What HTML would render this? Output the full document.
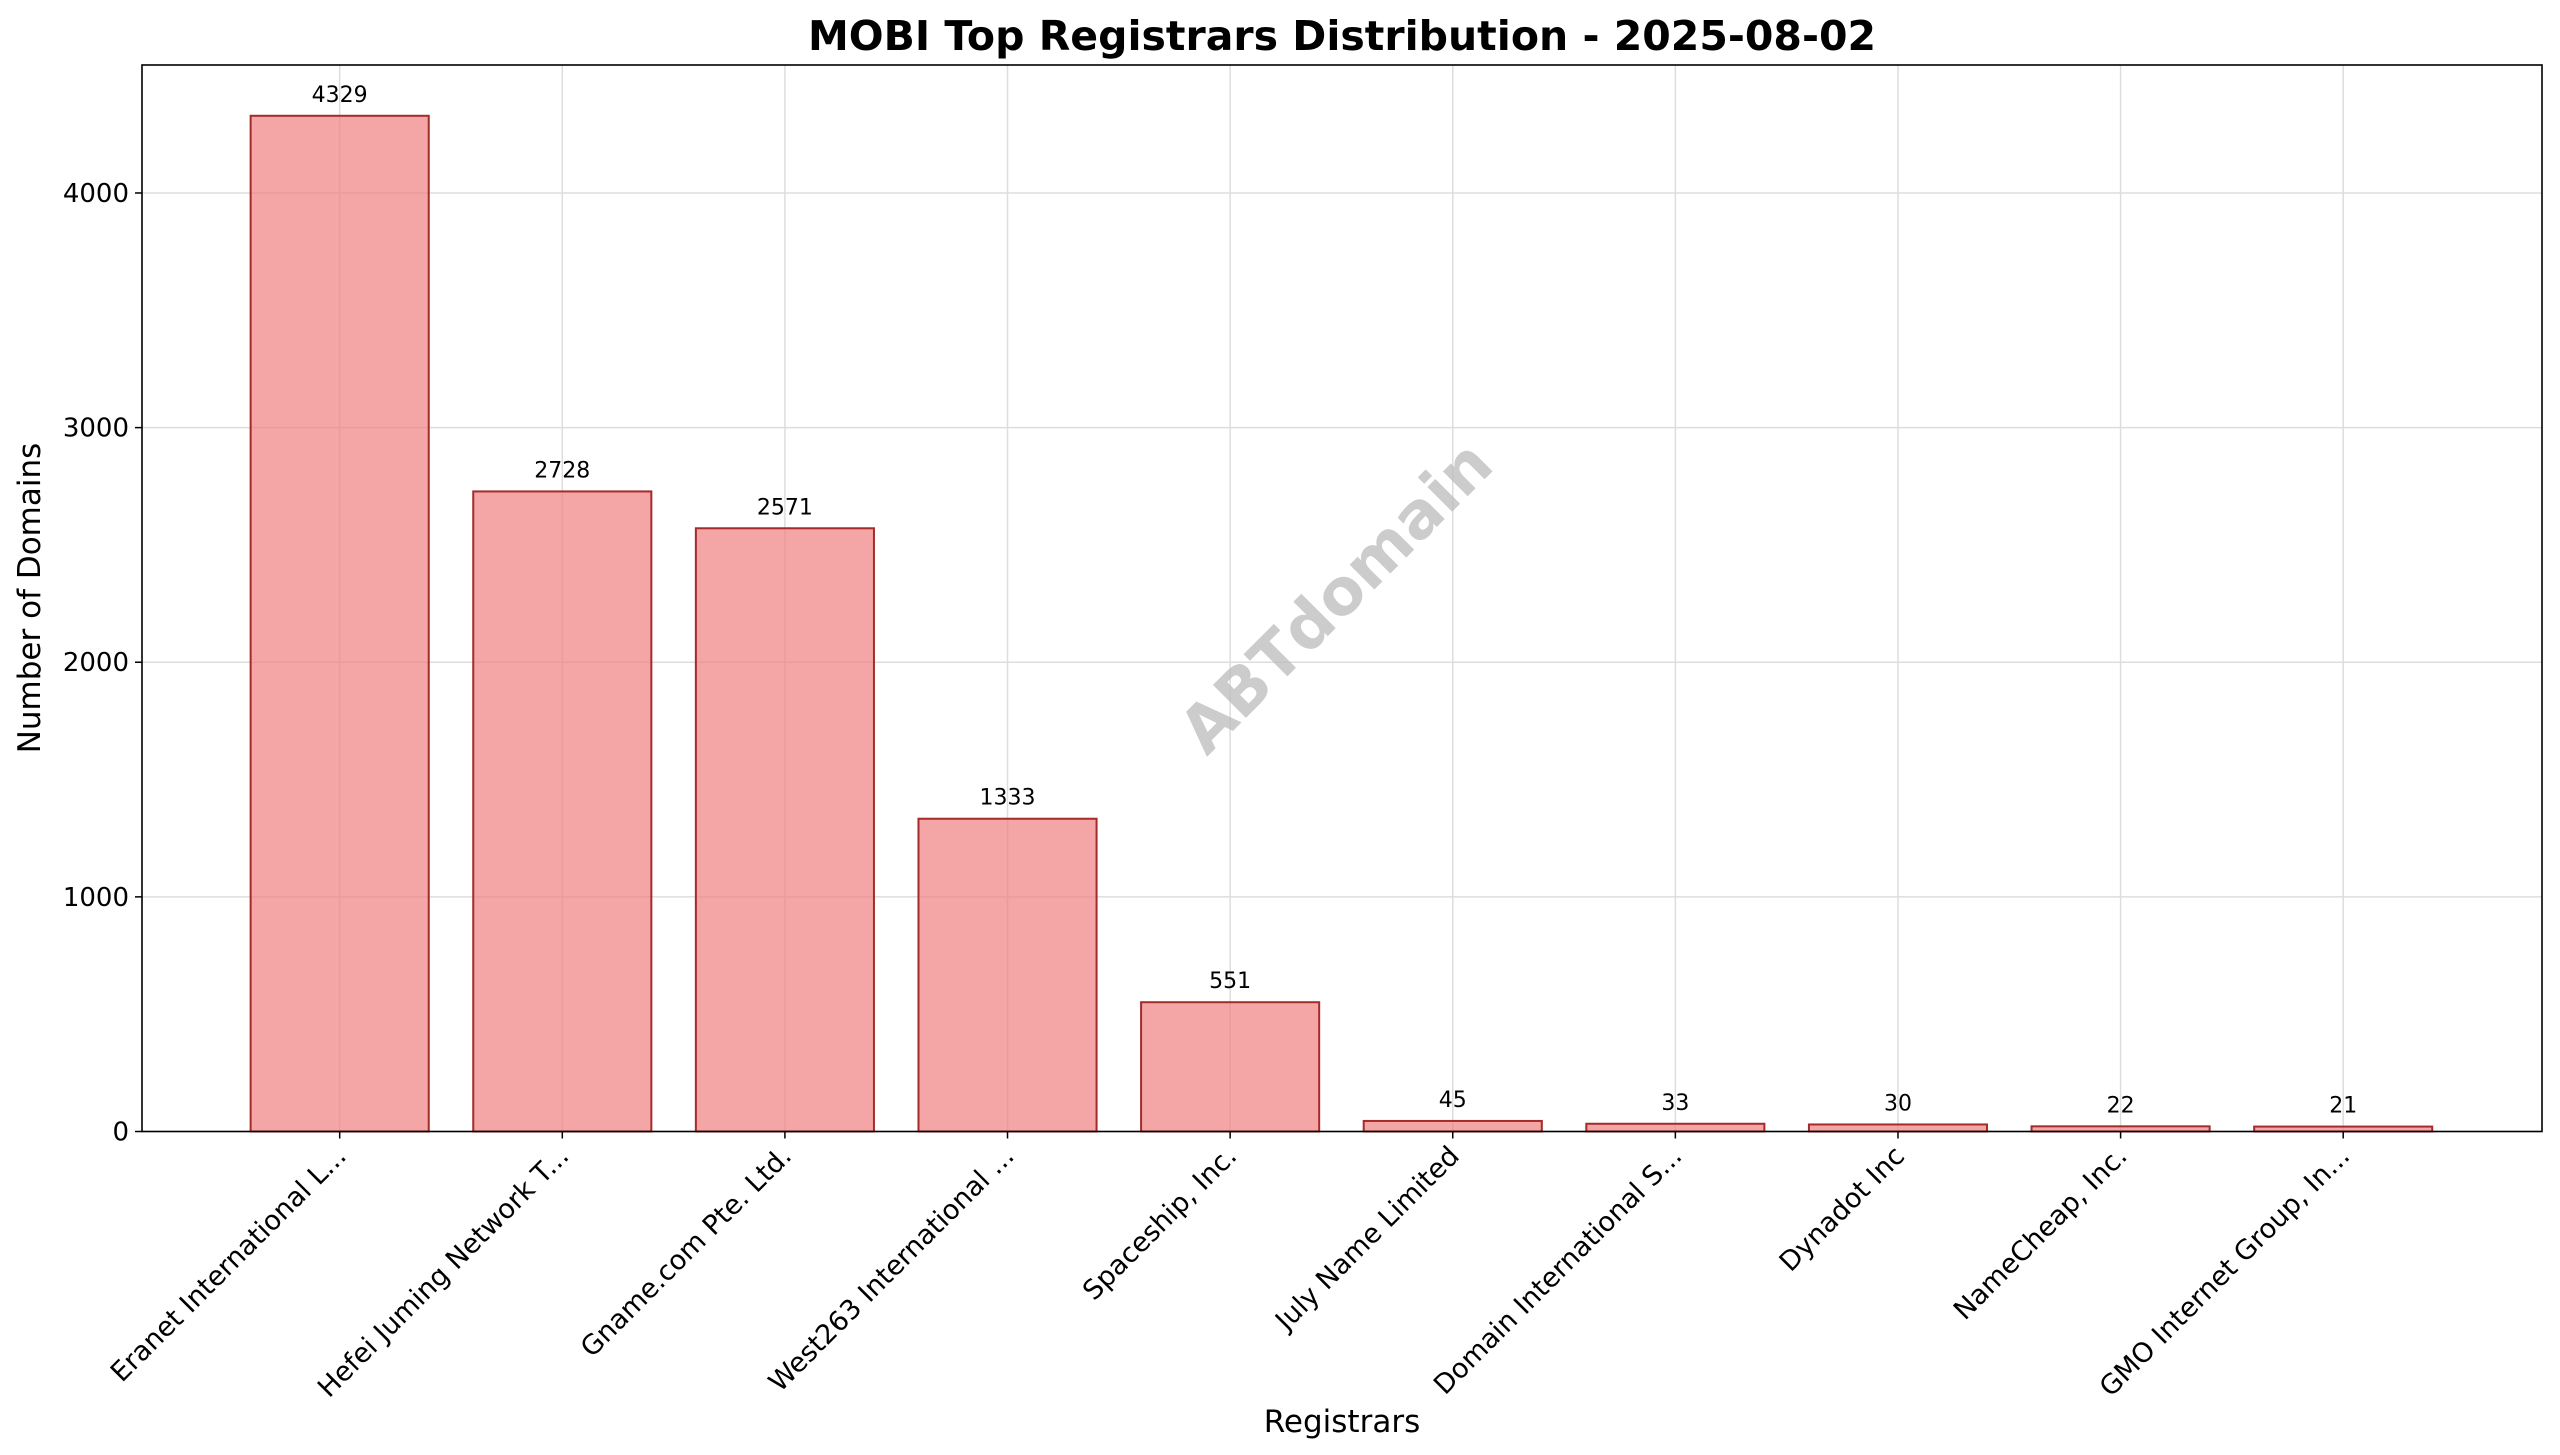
<!DOCTYPE html>
<html><head><meta charset="utf-8"><style>
html,body{margin:0;padding:0;background:#fff;}
svg{display:block;font-family:"DejaVu Sans","Liberation Sans",sans-serif;}
</style></head><body>
<svg id="chart" width="2560" height="1455" viewBox="0 0 2560 1455" xmlns="http://www.w3.org/2000/svg">
<rect width="2560" height="1455" fill="#fff"/>
<text x="1342" y="50" text-anchor="middle" font-size="41" font-weight="bold">MOBI Top Registrars Distribution - 2025-08-02</text>
<g id="grid"></g>
<g id="bars"></g>
<text x="1339" y="600" text-anchor="middle" dominant-baseline="middle" font-size="64" font-weight="bold" fill="#bbb" fill-opacity="0.75" transform="rotate(-45 1339 600)">ABTdomain</text>
<rect x="142" y="65" width="2400" height="1066.5" fill="none" stroke="#000" stroke-width="1.6"/>
<g id="yticks"></g>
<g id="xticks"></g>
<text x="1342" y="1432" text-anchor="middle" font-size="31">Registrars</text>
<text x="0" y="0" text-anchor="middle" font-size="31" transform="translate(40 598) rotate(-90)">Number of Domains</text>
</svg>
<script>
const categories=["Eranet International L...","Hefei Juming Network T...","Gname.com Pte. Ltd.","West263 International ...","Spaceship, Inc.","July Name Limited","Domain International S...","Dynadot Inc","NameCheap, Inc.","GMO Internet Group, In..."];
const values=[4329,2728,2571,1333,551,45,33,30,22,21];
const yTicks=[0,1000,2000,3000,4000];
const NS="http://www.w3.org/2000/svg";
const L=142,R=2542,T=65,B=1131.5;
const n=categories.length;
const yMax=Math.max(...values)*1.05;
const xMin=-0.888,xMax=n-1+0.893;
const xs=i=>L+(i-xMin)/(xMax-xMin)*(R-L);
const ys=v=>B-v/yMax*(B-T);
const bw=0.8*(xs(1)-xs(0));
function mk(tag,attrs,parent){const e=document.createElementNS(NS,tag);for(const k in attrs)e.setAttribute(k,attrs[k]);parent.appendChild(e);return e;}
const grid=document.getElementById('grid'),bars=document.getElementById('bars'),yt=document.getElementById('yticks'),xt=document.getElementById('xticks');
yTicks.forEach(t=>{const y=ys(t);
const g=mk('line',{x1:L,x2:R,y1:y,y2:y,stroke:'#ddd','stroke-width':1.5},grid);


const tk=mk('line',{x1:L-7,x2:L,y1:y,y2:y,stroke:'#000','stroke-width':1.5},yt);


const tl=mk('text',{x:L-13,y:y+9,'text-anchor':'end','font-size':26},yt);tl.textContent=t;


});
categories.forEach((c,i)=>{const x=xs(i);
const g=mk('line',{x1:x,x2:x,y1:T,y2:B,stroke:'#ddd','stroke-width':1.5},grid);


const r=mk('rect',{x:x-bw/2,y:ys(values[i]),width:bw,height:B-ys(values[i]),fill:'#f08080','fill-opacity':0.7,stroke:'#a52a2a','stroke-width':2},bars);


const v=mk('text',{x:x,y:ys(values[i])-14,'text-anchor':'middle','font-size':22},bars);v.textContent=values[i];


const tk=mk('line',{x1:x,x2:x,y1:B,y2:B+7,stroke:'#000','stroke-width':1.5},xt);


const tl=mk('text',{x:0,y:0,'text-anchor':'end','font-size':27,transform:`translate(${x+8} ${B+26}) rotate(-45)`},xt);tl.textContent=c;


});
</script>
</body></html>
